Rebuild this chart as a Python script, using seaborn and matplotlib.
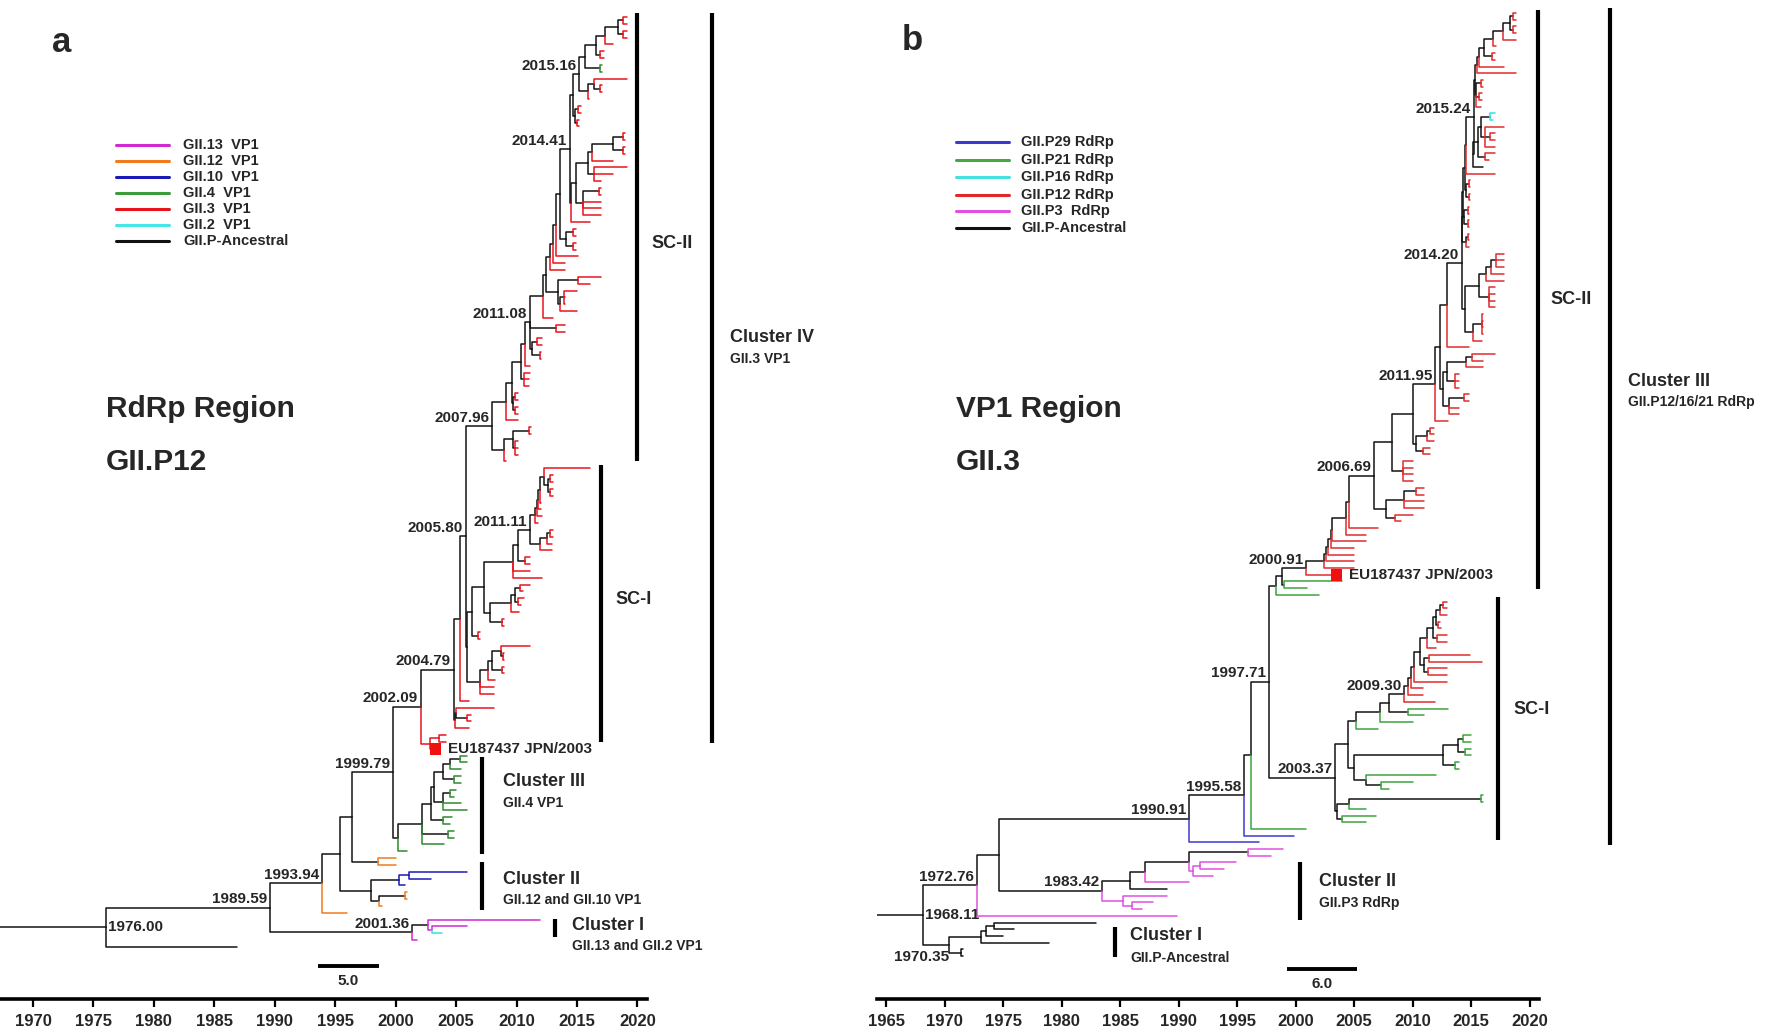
import re
import numpy as np
import pandas as pd
import matplotlib
matplotlib.use("Agg")
import matplotlib.pyplot as plt
from matplotlib.transforms import Affine2D
from matplotlib.lines import Line2D
import seaborn as sns

W, H = 1770, 1028

# ------------------------------------------------------------------ DATA
# Time-scaled trees written as Newick strings: every node label is its date
# (decimal year); a trailing letter gives the colour class, '*' marks EU187437.
# ---- panel a : RdRp region (GII.P12)
A_TOP = "((((((2019.1r,2019.1r)2018.8,(2019.1r,2019.1r)2018.8)2018.4,2018.0r)2017.3,(2017.2r,2017.2r)2016.9)2016.6,(2017.1g,2017.1g)2016.9)2015.65,((2019.1r,(2017.1r,2017.1r)2016.9)2016.4,2016.0r)2015.9)2015.16"
A_CH1 = "((2015.3r,2015.3r)2015.1,(2015.2r,2015.2r)2015.0)2014.8"
A_C14 = "((((((2019.0r,2019.0r)2018.8,(2019.0r,2019.0r)2018.8)2018.0,2018.0r)2016.2,(2019.1r,2018.0r,2017.0r)2016.4)2015.9,((2017.0r,2017.0r)2016.8,2017.0r,2017.0r,2017.0r)2015.5)2014.9,2016.1r)2014.5"
A_CH2 = "((2014.9r,2014.9r)2014.7,(2014.9r,2014.9r)2014.7)2014.1"
A_SUB2 = "((2017.0r,2016.1r)2015.1,((2015.0r,2014.0r,2014.0r)2013.9,2015.0r)2013.6)2013.4"
A_LOW08 = "(((2011.2r,2011.2r)2011.0,(2010.1r,2010.1r,2010.1r)2009.9)2009.7,2009.1r)2009.0"
A_S1TOP = "(2016.1r,((2013.0r,2013.0r)2012.8,(2013.0r,2013.0r)2012.8)2012.6)2012.3"
A_S1LOW = "(((2013.0r,2013.0r)2012.8,2012.9r)2012.5,2012.9r)2011.9"
A_S1C = "((((2011.1r,2010.5r)2010.3,(2010.6r,2010.4r)2010.1)2009.9,2010.2r)2009.5,(2009.0r,2009.0r)2008.8)2007.8"
A_S1D = "((((2011.1r,(2009.0r,2009.0r)2008.9)2008.7,(2009.0r,2009.0r)2008.8)2008.0,2008.2r)2007.6,2008.1r,2008.1r)2007.0"
A_CL3 = "(((((((2005.9g,2005.9g)2005.3,2005.4g)2004.5,(2005.4g,2005.4g)2004.8)2003.9,((2005.0g,2004.8g)2004.5,2005.4g,2005.9g)2003.9)2003.2,(2004.7g,2004.5g)2003.9)2002.9,(2004.8g,2004.8g)2004.3,2004.0g)2002.2,2000.9g)2000.2"
A_CL2 = "(((2005.9b,2002.9b)2001.1b,2000.8b)2000.3,((2000.9o,2000.9o)2000.8,1998.9o)1998.6)1998.0"
A_CL1 = "((2011.9m,(2005.9m,2003.8c)2003.0m)2002.7,2001.8m)2001.36"

A_1441 = "((" + A_TOP + "," + A_CH1 + ")2014.7," + A_C14 + ")2014.41"
A_N1 = "((" + A_1441 + "," + A_CH2 + ")2013.6,2015.1r)2013.3"
A_N2 = "((" + A_N1 + ",2014.0r)2013.0,2014.0r)2012.75"
A_2011 = "(((" + A_N2 + "," + A_SUB2 + ")2012.4,2013.0r)2012.2,(2014.0r,2014.0r)2013.3,((2012.1r,2012.1r)2011.7,(2012.0r,2012.0r)2011.9)2011.3)2011.08"
A_2009 = "((((" + A_2011 + ",2011.1r)2010.7,(2011.1r,2011.0r,2011.0r)2010.6)2010.4,((2010.1r,2010.1r)2009.9,(2010.1r,2010.1r)2009.9)2009.7)2009.6,2010.1r)2009.1"
A_SC2 = "(" + A_2009 + "," + A_LOW08 + ")2007.96"
A_S1LAD = "((((" + A_S1TOP + ",2012.0r)2011.9,2012.0r)2011.8,2012.1r)2011.7,2011.8r)2011.5"
A_1111 = "(" + A_S1LAD + "," + A_S1LOW + ")2011.11"
A_S1B = "((" + A_1111 + ",(2011.1r,2011.1r)2010.7)2010.1,2011.1r,2012.1r)2009.7"
A_S1E = "((" + A_S1B + "," + A_S1C + ")2007.3,(2007.0r,2007.0r)2006.8)2006.3"
A_2580 = "(" + A_SC2 + ",(" + A_S1E + "," + A_S1D + ")2005.9)2005.80"
A_2530 = "(" + A_2580 + ",2006.1r)2005.3"
A_2479 = "(" + A_2530 + ",((2008.1r,(2006.2r,2006.2r)2005.9)2005.0,2006.1r)2004.9)2004.79"
A_2209 = "(" + A_2479 + ",((2004.2r,2004.2r)2003.6r,2003.3r*)2002.8r)2002.09"
A_1979 = "(" + A_2209 + "," + A_CL3 + ")1999.79"
A_1964 = "(" + A_1979 + ",(2000.0o,2000.0o)1998.5)1996.4"
A_1954 = "(" + A_1964 + "," + A_CL2 + ")1995.4"
A_1994 = "(" + A_1954 + ",1996.0o)1993.94"
A_1990 = "(" + A_1994 + "," + A_CL1 + ")1989.59"
TREE_A = "(" + A_1990 + ",1986.9)1976.00"
ROOT_START_A = 1967.27

# ---- panel b : VP1 region (GII.3)
B_TOP = "((((((((2018.8r,2018.8r)2018.6,(2018.8r,2018.8r)2018.6)2018.3,2018.8r)2017.7,2017.1r)2016.9,(2017.0r,2017.0r)2016.8)2016.1,2017.8r)2015.7,2018.8r)2015.5,((2016.0r,2016.0r)2015.8,(2015.9r,2015.9r)2015.7,2015.8r)2015.4)2015.3"
B_L1524 = "((((2017.0c,2016.9c)2016.6,(2017.8r,(2017.0r,2017.0r)2016.6,2017.0r)2016.2)2015.8,(2017.0r,2016.5r)2016.2)2015.6,2016.0)2015.2"
B_L1420 = "(((((2017.8r,2017.8r,2017.8r)2017.1,2017.8r)2016.7,2017.8r)2016.3,(2017.0r,2017.0r,2017.0r,2017.0r)2016.5)2015.7,((2016.0r,2016.0r,2016.0r,2016.0r)2015.9,2015.9r)2015.2)2014.5"
B_SUB123 = "((((2017.0r,2016.0r)2015.1,2016.0r)2014.6,(2014.0r,2014.0r,2014.0r)2013.6)2012.9,((2014.85r,2014.85r)2014.4,2014.0r,2014.0r)2013.1)2012.6"
B_2009 = "((((((((((2012.9r,2012.9r)2012.6,2012.9r)2012.3,(2012.3r,2012.4r)2012.2)2012.0,(2012.9r,2012.9r)2012.1)2011.7,2012.0r)2011.2,((2014.9r,2015.9r)2011.4,(2012.9r,2012.9r)2011.3)2011.0)2010.6,2012.9r)2010.1,2010.9r)2009.9,2010.9r)2009.6,2011.9r)2009.30"
B_MID = "((((2015.0g,2015.0g)2014.3,(2015.0g,2015.0g)2014.5)2013.9,(2014.0g,2014.0g)2013.6)2012.6,(2012.0g,(2010.0g,2008.0g)2007.3)2006.0)2005.0"
B_LOW = "(((2016.0g,2016.0g)2015.8,2006.0g)2004.6,(2006.9g,2006.0g)2004.0)2003.5"
B_CL2 = "(((((1998.9m,1997.9m)1995.9,((1994.9m,1993.9m)1991.8m,1992.9m)1991.2m)1990.9,1990.9m)1987.1,1989.0)1985.8,(1989.0m,(1987.8m,1986.9m)1986.0m)1985.2m)1983.42"
B_CL1 = "((((1982.9,1975.9)1974.2,1975.0)1973.5,1978.9)1973.1,(1971.6,1971.6)1971.4)1970.35"

B_1524 = "(" + B_TOP + "," + B_L1524 + ")2015.24"
B_LAD = "((((" + B_1524 + ",2017.0r)2014.6,((2014.9r,2014.9r)2014.8,(2014.9r,2014.9r)2014.8)2014.6)2014.5,((2014.8r,2014.8r)2014.7,(2014.8r,2014.8r)2014.7)2014.4)2014.3,((2014.8r,2014.8r)2014.7,2014.8r)2014.6)2014.25"
B_1420 = "(" + B_LAD + "," + B_L1420 + ")2014.20"
B_123 = "((" + B_1420 + ",2014.8r)2012.9," + B_SUB123 + ")2012.3"
B_1195 = "(" + B_123 + ",2013.0r)2011.95"
B_2010 = "(" + B_1195 + ",(((2011.8r,2011.8r)2011.5,2011.8r)2011.2,(2011.5r,2011.5r)2010.9)2010.3)2010.0"
B_2008 = "(" + B_2010 + ",(2010.0r,2010.0r,2010.0r,2010.0r)2009.2)2008.2"
B_2669 = "(" + B_2008 + ",(((2011.0r,2011.0r)2010.3,2011.0r,2011.0r)2009.3,(2010.0r,2009.0r)2008.5)2007.7)2006.69"
B_LAD00 = "(((((((" + B_2669 + ",2007.0r)2004.6,2006.0r)2004.3,2006.0r)2003.1,2005.0r)2003.0,2005.0r)2002.8,2005.0r)2002.6,2005.0r)2002.4"
B_2091 = "(" + B_LAD00 + ",2003.5r*)2000.91"
B_D = "((" + B_2091 + ",(2004.0g,2001.0g)1999.0)1998.8,2002.0g)1998.3"
B_2007 = "(((" + B_2009 + ",(2013.0g,2011.0g)2009.6)2008.0,2010.0g)2007.2,2007.0g)2005.2"
B_SC1 = "((" + B_2007 + "," + B_MID + ")2004.5," + B_LOW + ")2003.37"
B_1997 = "(" + B_D + "," + B_SC1 + ")1997.71"
B_1996 = "(" + B_1997 + ",2000.9g)1996.2"
B_1995 = "(" + B_1996 + ",1999.9b)1995.58"
B_1990 = "(" + B_1995 + ",1996.9b)1990.91"
B_1974 = "(" + B_1990 + "," + B_CL2 + ")1974.6"
B_1972 = "(" + B_1974 + ",1989.9m)1972.76"
TREE_B = "(" + B_1972 + "," + B_CL1 + ")1968.11"
ROOT_START_B = 1964.18

NODE_LABELS_A = ["2015.16", "2014.41", "2011.08", "2007.96", "2005.80", "2011.11",
                 "2004.79", "2002.09", "1999.79", "1993.94", "1989.59", "2001.36", "1976.00"]
NODE_LABELS_B = ["2015.24", "2014.20", "2011.95", "2006.69", "2000.91", "1997.71",
                 "2003.37", "2009.30", "1995.58", "1990.91", "1983.42", "1972.76",
                 "1968.11", "1970.35"]
LABEL_SIDE = {"1976.00": "right", "1968.11": "right", "1970.35": "below"}

LEGEND_A = ["GII.13  VP1", "GII.12  VP1", "GII.10  VP1", "GII.4  VP1", "GII.3  VP1",
            "GII.2  VP1", "GII.P-Ancestral"]
LEGEND_A_COLORS = ["#D22AD2", "#F07A1E", "#1A1AB8", "#3C9C3C", "#E8141C", "#45E6E6", "#111111"]
LEGEND_B = ["GII.P29 RdRp", "GII.P21 RdRp", "GII.P16 RdRp", "GII.P12 RdRp", "GII.P3  RdRp",
            "GII.P-Ancestral"]
LEGEND_B_COLORS = ["#3A3AD0", "#45A845", "#45E0E0", "#E02828", "#E050E0", "#111111"]

PAL_A = {"k": "#141414", "r": "#E8141C", "g": "#2E8B2E", "o": "#F07A1E",
         "b": "#1A1AB8", "m": "#D22AD2", "c": "#35E0E0"}
PAL_B = {"k": "#141414", "r": "#E02C2C", "g": "#3DA33D", "c": "#35DDE8",
         "b": "#3A3AD0", "m": "#E050E0"}

TICKS_A = list(range(1970, 2021, 5))
TICKS_B = list(range(1965, 2021, 5))
SCALE_A = (1993.6, 5.0)
SCALE_B = (1999.24, 6.0)
EU_TEXT = "EU187437 JPN/2003"

# clusters: (title, subtitle)
CLUSTERS_A = [("SC-II", ""), ("Cluster IV", "GII.3 VP1"), ("SC-I", ""),
              ("Cluster III", "GII.4 VP1"), ("Cluster II", "GII.12 and GII.10 VP1"),
              ("Cluster I", "GII.13 and GII.2 VP1")]
CLUSTERS_B = [("SC-II", ""), ("Cluster III", "GII.P12/16/21 RdRp"), ("SC-I", ""),
              ("Cluster II", "GII.P3 RdRp"), ("Cluster I", "GII.P-Ancestral")]

# ------------------------------------------------------------------ LAYOUT (pixels)
Y_AXIS = 999
A_AX = dict(left=0, right=647, x0=ROOT_START_A, x1=2020.79)
B_AX = dict(left=876.6, right=1539, x0=ROOT_START_B, x1=2020.8)
A_TIPS = (17, 947)
B_TIPS = (13, 956)
# bar x, bar y0, bar y1, text x, title y, subtitle y
BARS_A = [(637, 13, 461, 651, 243, None), (712, 13, 743, 730, 338, 359),
          (601, 465, 742, 615, 600, None), (482, 757, 854, 503, 782, 803),
          (482, 862, 910, 503, 879, 900), (555, 919, 937, 572, 926, 946)]
BARS_B = [(1538, 10, 589, 1550, 299, None), (1610, 8, 845, 1628, 381, 402),
          (1498, 597, 840, 1513, 710, None), (1300, 862, 920, 1319, 881, 903),
          (1115, 927, 957, 1130, 936, 958)]

# ------------------------------------------------------------------ HELPERS
TOK = re.compile(r"([0-9]+(?:\.[0-9]+)?)([a-z]?)(\*?)")


def parse_newick(s):
    s = re.sub(r"\s+", "", s)
    pos = 0

    def node():
        nonlocal pos
        n = {"ch": []}
        if s[pos] == "(":
            pos += 1
            while True:
                n["ch"].append(node())
                c = s[pos]
                pos += 1
                if c == ")":
                    break
        m = TOK.match(s, pos)
        n["label"] = m.group(1)
        n["x"] = float(m.group(1))
        n["col"] = m.group(2) or "k"
        n["mark"] = m.group(3) == "*"
        pos = m.end()
        return n

    root = node()
    assert pos == len(s), (pos, len(s))
    return root


def layout(root, y0, y1):
    leaves = []

    def collect(n):
        if n["ch"]:
            for c in n["ch"]:
                collect(c)
        else:
            leaves.append(n)
    collect(root)
    for l, y in zip(leaves, np.linspace(y0, y1, len(leaves))):
        l["y"] = y

    def sety(n):
        if n["ch"]:
            for c in n["ch"]:
                sety(c)
            n["y"] = (n["ch"][0]["y"] + n["ch"][-1]["y"]) / 2
    sety(root)
    return leaves


def segments(root, root_start):
    rows = [(0, root_start, root["y"], "k"), (0, root["x"], root["y"], "k")]
    k = [1]

    def walk(n):
        for c in n["ch"]:
            for px, py in [(n["x"], n["y"]), (n["x"], c["y"]), (c["x"], c["y"])]:
                rows.append((k[0], px, py, c["col"]))
            k[0] += 1
            walk(c)
    walk(root)
    return pd.DataFrame(rows, columns=["seg", "x", "y", "col"])


def internal_nodes(root):
    d = {}

    def walk(n):
        if n["ch"]:
            d.setdefault(n["label"], n)
            for c in n["ch"]:
                walk(c)
    walk(root)
    return d


# ------------------------------------------------------------------ FIGURE
sns.set_theme(style="white")
plt.rcParams["font.family"] = ["Liberation Sans", "DejaVu Sans"]
plt.rcParams["font.weight"] = "bold"
TICK_FONT = ["Liberation Sans Narrow", "Liberation Sans", "DejaVu Sans"]

fig = plt.figure(figsize=(W / 100, H / 100), dpi=100)
PX = Affine2D().scale(1 / W, -1 / H).translate(0, 1) + fig.transFigure


def panel(tree_str, root_start, axd, tips, pal, ticks, node_labels, scale, ybar,
          bars, clusters, legend, legend_colors, leg_x, leg_rows, letter, letter_xy,
          title_xy, title, subtitle):
    ax = fig.add_axes([axd["left"] / W, (H - Y_AXIS) / H,
                       (axd["right"] - axd["left"]) / W, Y_AXIS / H])
    ax.patch.set_alpha(0)
    root = parse_newick(tree_str)
    leaves = layout(root, *tips)
    df = segments(root, root_start)
    order = ["k"] + [c for c in pal if c != "k" and c in set(df["col"])]
    sns.lineplot(data=df, x="x", y="y", hue="col", units="seg", estimator=None,
                 sort=False, palette=pal, hue_order=order, legend=False,
                 linewidth=1.1, ax=ax)
    # EU187437 marker
    eu = [l for l in leaves if l["mark"]][0]
    sns.scatterplot(x=[eu["x"]], y=[eu["y"]], marker="s", s=70, color="#F01010",
                    edgecolor="none", ax=ax, zorder=5)
    ax.annotate(EU_TEXT, (eu["x"], eu["y"]), xytext=(9, 0), textcoords="offset points",
                ha="left", va="center", fontsize=11, fontweight="bold")
    # node labels
    nodes = internal_nodes(root)
    for lab in node_labels:
        n = nodes[lab]
        side = LABEL_SIDE.get(lab)
        if side == "right":
            ax.annotate(lab, (n["x"], n["y"]), xytext=(2, 0), textcoords="offset points",
                        ha="left", va="center", fontsize=11, fontweight="bold")
        elif side == "below":
            ax.annotate(lab, (n["x"], n["y"]), xytext=(0, -4), textcoords="offset points",
                        ha="right", va="top", fontsize=11, fontweight="bold")
        else:
            ax.annotate(lab, (n["x"], n["y"]), xytext=(-2, 1), textcoords="offset points",
                        ha="right", va="bottom", fontsize=11, fontweight="bold")
    # axes
    ax.set_xlim(axd["x0"], axd["x1"])
    ax.set_ylim(Y_AXIS, 0)
    ax.set_xlabel("")
    ax.set_ylabel("")
    ax.set_yticks([])
    ax.set_xticks(ticks)
    ax.set_xticklabels([str(t) for t in ticks], fontfamily=TICK_FONT, fontsize=12,
                       fontweight="bold")
    for s in ["left", "right", "top"]:
        ax.spines[s].set_visible(False)
    ax.spines["bottom"].set_linewidth(2.6)
    ax.spines["bottom"].set_color("black")
    ax.tick_params(axis="x", direction="out", length=6, width=1.6, color="black",
                   pad=5, bottom=True)
    # scale bar
    sx, sl = scale
    ax.plot([sx, sx + sl], [ybar, ybar], color="black", lw=2.8, solid_capstyle="butt",
            clip_on=False)
    ax.text(sx + sl / 2, ybar + 15, f"{sl:.1f}", ha="center", va="center",
            fontsize=11, fontweight="bold")
    # cluster bars
    for (bx, by0, by1, tx, ty, sy), (t1, t2) in zip(bars, clusters):
        fig.add_artist(Line2D([bx, bx], [by0, by1], transform=PX, lw=3.0,
                              color="black", solid_capstyle="butt"))
        fig.text(tx, ty, t1, transform=PX, ha="left", va="center", fontsize=13,
                 fontweight="bold")
        if t2:
            fig.text(tx, sy, t2, transform=PX, ha="left", va="center", fontsize=10,
                     fontweight="bold")
    # legend
    lx0, lx1, ltx = leg_x
    for lab, col, ly in zip(legend, legend_colors, leg_rows):
        fig.add_artist(Line2D([lx0, lx1], [ly, ly], transform=PX, lw=2.2, color=col))
        fig.text(ltx, ly, lab, transform=PX, ha="left", va="center", fontsize=10.5,
                 fontweight="bold")
    fig.text(letter_xy[0], letter_xy[1], letter, transform=PX, ha="center", va="center",
             fontsize=25, fontweight="bold")
    fig.text(title_xy[0], title_xy[1], title, transform=PX, ha="left", va="center",
             fontsize=21.5, fontweight="bold")
    fig.text(title_xy[0], title_xy[1] + 53, subtitle, transform=PX, ha="left",
             va="center", fontsize=21.5, fontweight="bold")
    return ax


panel(TREE_A, ROOT_START_A, A_AX, A_TIPS, PAL_A, TICKS_A, NODE_LABELS_A, SCALE_A, 966,
      BARS_A, CLUSTERS_A, LEGEND_A, LEGEND_A_COLORS, (116, 169, 183),
      [145, 161, 177, 193, 209, 225, 241], "a", (62, 43), (106, 409),
      "RdRp Region", "GII.P12")
panel(TREE_B, ROOT_START_B, B_AX, B_TIPS, PAL_B, TICKS_B, NODE_LABELS_B, SCALE_B, 969,
      BARS_B, CLUSTERS_B, LEGEND_B, LEGEND_B_COLORS, (956, 1009, 1021),
      [142, 160, 177, 195, 211, 228], "b", (912, 41), (956, 409),
      "VP1 Region", "GII.3")

fig.savefig("out.png", dpi=100)
